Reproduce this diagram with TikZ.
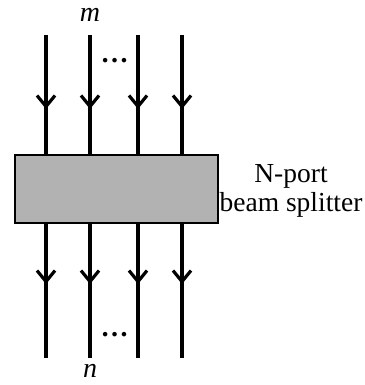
\documentclass[tikz,border=0pt]{standalone}
\usepackage{fontspec}
\setmainfont{Liberation Serif}
\usetikzlibrary{arrows.meta,decorations.markings}
\begin{document}
\begin{tikzpicture}[x=1pt,y=-1pt,
  beam/.style={line width=4pt},
  topbeam/.style={beam,postaction={decorate},decoration={markings,
      mark=at position 0.62 with {\arrow{Straight Barb[length=11pt,width=18pt,line width=3.2pt]}}}},
  botbeam/.style={beam,postaction={decorate},decoration={markings,
      mark=at position 0.45 with {\arrow{Straight Barb[length=11pt,width=18pt,line width=3.2pt]}}}},
  bsbox/.style={draw=black,line width=1.2pt,fill=black!30,rectangle,minimum width=203pt,minimum height=68pt,inner sep=0pt},
  lbl/.style={font=\fontsize{27.5}{28}\selectfont,align=center,inner sep=0pt},
  idx/.style={font=\fontsize{28}{30}\selectfont\itshape,inner sep=0pt},
  dotsl/.style={font=\fontsize{28}{30}\selectfont\bfseries,inner sep=0pt,anchor=base}]
\useasboundingbox (0,0) rectangle (364,385);
\node[bsbox] (box) at (116.5,189) {};
\foreach \i/\x in {1/46,2/90,3/138,4/182}{
  \coordinate (t\i) at (\x,35);
  \coordinate (b\i) at (\x,358);
  \draw[topbeam] (t\i) -- (t\i |- box.north);
  \draw[botbeam] (b\i |- box.south) -- (b\i);
}
\node[idx] (m) at (90,15) {m};
\node[idx] (n) at (90,371) {n};
\node[dotsl] (d1) at (114.5,63) {…};
\node[dotsl] (d2) at (114.5,336) {…};
\node[lbl] (lab) at (291,191) {N-port\\[1pt]beam splitter};
\end{tikzpicture}
\end{document}
